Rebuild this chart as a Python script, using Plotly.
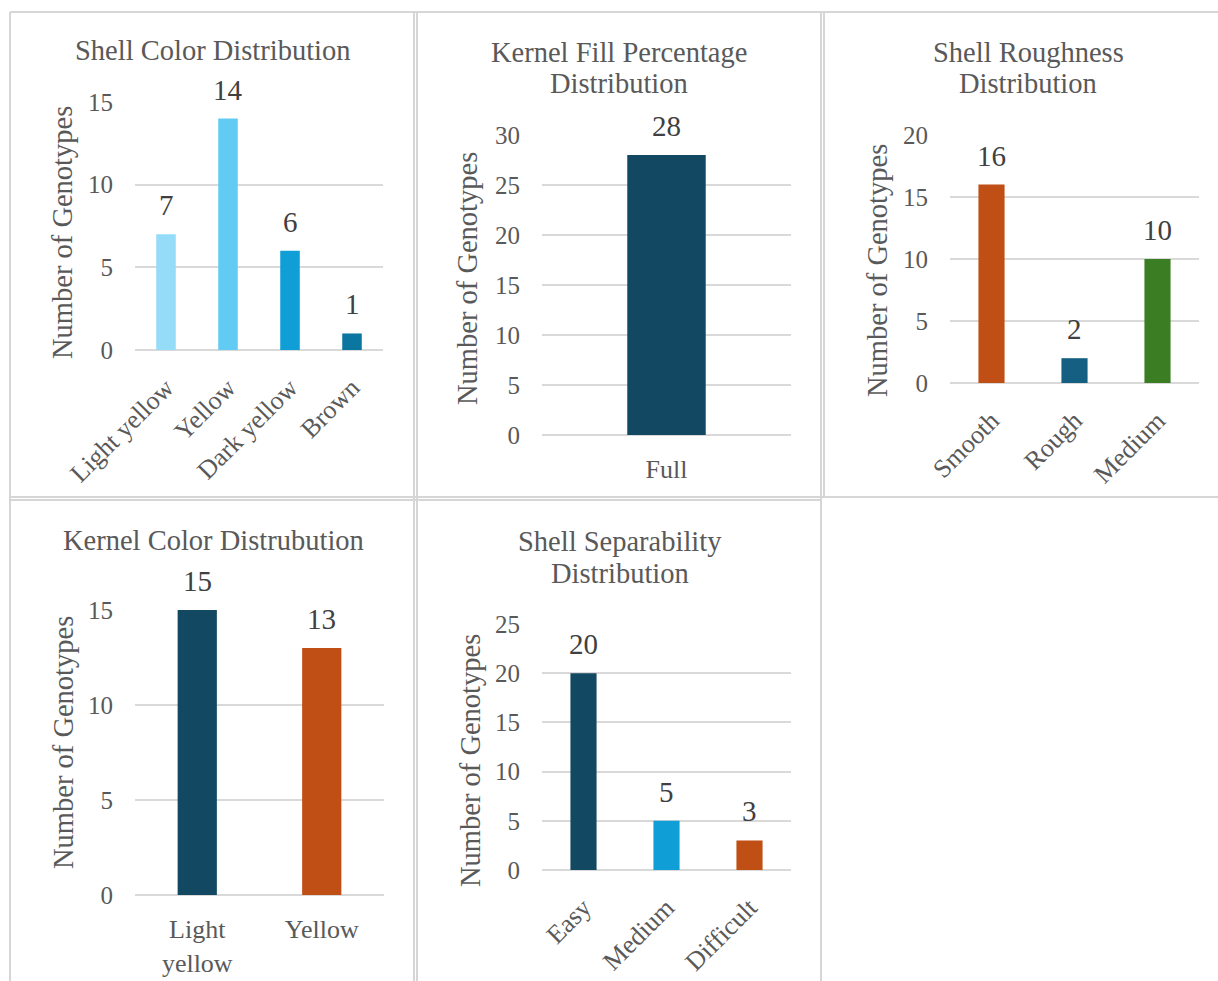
import plotly.graph_objects as go

W, H = 1218, 981
FONT = "Times New Roman, Liberation Serif, serif"
GRID = "#d9d9d9"
TXT = "#595959"
LBL = "#404040"

# ---- data ----
shell_color_cats = ["Light yellow", "Yellow", "Dark yellow", "Brown"]
shell_color_vals = [7, 14, 6, 1]
shell_color_cols = ["#94DCF8", "#61CBF3", "#0F9ED5", "#0B76A0"]

kernel_fill_cats = ["Full"]
kernel_fill_vals = [28]
kernel_fill_cols = ["#124861"]

roughness_cats = ["Smooth", "Rough", "Medium"]
roughness_vals = [16, 2, 10]
roughness_cols = ["#C04F15", "#155F82", "#3B7D23"]

kernel_color_cats = ["Light<br>yellow", "Yellow"]
kernel_color_vals = [15, 13]
kernel_color_cols = ["#124861", "#C04F15"]

separability_cats = ["Easy", "Medium", "Difficult"]
separability_vals = [20, 5, 3]
separability_cols = ["#124861", "#0F9ED5", "#C04F15"]

panels = [
    dict(title=["Shell Color Distribution"], cats=shell_color_cats, vals=shell_color_vals,
         cols=shell_color_cols, ymax=15, dtick=5, box=(135, 383, 102, 350),
         title_xy=(213, 51), ytitle_xy=(63, 233), angle=-45),
    dict(title=["Kernel Fill Percentage", "Distribution"], cats=kernel_fill_cats,
         vals=kernel_fill_vals, cols=kernel_fill_cols, ymax=30, dtick=5,
         box=(542, 791, 135, 435), title_xy=(619, 52), ytitle_xy=(467, 278), angle=0),
    dict(title=["Shell Roughness", "Distribution"], cats=roughness_cats, vals=roughness_vals,
         cols=roughness_cols, ymax=20, dtick=5, box=(950, 1199, 135, 383),
         title_xy=(1028, 52), ytitle_xy=(878, 271), angle=-45),
    dict(title=["Kernel Color Distrubution"], cats=kernel_color_cats, vals=kernel_color_vals,
         cols=kernel_color_cols, ymax=15, dtick=5, box=(135, 384, 610, 895),
         title_xy=(213, 540), ytitle_xy=(63, 743), angle=0),
    dict(title=["Shell Separability", "Distribution"], cats=separability_cats,
         vals=separability_vals, cols=separability_cols, ymax=25, dtick=5,
         box=(542, 791, 624, 870), title_xy=(620, 541), ytitle_xy=(470, 760), angle=-45),
]

TITLE_LINE_GAP = 32


def px(x):
    return x / W


def py(y):
    return 1 - y / H


fig = go.Figure()
annotations = []
layout_axes = {}

for i, p in enumerate(panels, start=1):
    sfx = "" if i == 1 else str(i)
    xref, yref = f"x{sfx}", f"y{sfx}"
    x0, x1, y0, y1 = p["box"]

    fig.add_trace(go.Bar(
        x=p["cats"], y=p["vals"], marker=dict(color=p["cols"], line=dict(width=0)),
        xaxis=xref, yaxis=yref, showlegend=False, hoverinfo="skip",
    ))

    layout_axes[f"xaxis{sfx}"] = dict(
        domain=[px(x0), px(x1)], anchor=yref, showgrid=False, zeroline=False,
        showline=False, ticks="outside", ticklen=11, tickcolor="rgba(0,0,0,0)",
        tickangle=p["angle"], tickfont=dict(family=FONT, size=26, color=TXT),
        fixedrange=True, automargin=False,
    )
    layout_axes[f"yaxis{sfx}"] = dict(
        domain=[py(y1), py(y0)], anchor=xref, range=[0, p["ymax"]], dtick=p["dtick"],
        showgrid=True, gridcolor=GRID, gridwidth=1.6, zeroline=True,
        zerolinecolor=GRID, zerolinewidth=1.6, showline=False,
        ticks="outside", ticklen=16, tickcolor="rgba(0,0,0,0)",
        tickfont=dict(family=FONT, size=25, color=TXT), fixedrange=True,
        automargin=False,
    )

    # value labels above each bar
    for c, v in zip(p["cats"], p["vals"]):
        annotations.append(dict(
            x=c, y=v, xref=xref, yref=yref, text=str(v), showarrow=False,
            yanchor="bottom", yshift=11,
            font=dict(family=FONT, size=29, color=LBL),
        ))

    tx, ty = p["title_xy"]
    for k, line in enumerate(p["title"]):
        annotations.append(dict(
            x=px(tx), y=py(ty + k * TITLE_LINE_GAP), xref="paper", yref="paper", text=line,
            showarrow=False, xanchor="center", yanchor="middle",
            font=dict(family=FONT, size=28.5, color=TXT),
        ))
    ax_, ay_ = p["ytitle_xy"]
    annotations.append(dict(
        x=px(ax_), y=py(ay_), xref="paper", yref="paper", text="Number of Genotypes",
        textangle=-90, showarrow=False, xanchor="center", yanchor="middle",
        font=dict(family=FONT, size=28.5, color=TXT),
    ))

# table-style cell borders
BORDER = "#d6d6d6"
segments = [
    (10, 12, W, 12),
    (10, 497, W, 497),
    (10, 500, 821, 500),
    (10, 12, 10, H),
    (414, 12, 414, H),
    (417, 12, 417, H),
    (821, 12, 821, H),
    (824, 12, 824, 497),
]
shapes = [
    dict(type="line", xref="paper", yref="paper", x0=px(a), y0=py(b), x1=px(c), y1=py(d),
         line=dict(color=BORDER, width=2))
    for a, b, c, d in segments
]

fig.update_layout(
    width=W, height=H, margin=dict(l=0, r=0, t=0, b=0, autoexpand=False),
    paper_bgcolor="white", plot_bgcolor="white",
    bargap=0.685, annotations=annotations, shapes=shapes,
    font=dict(family=FONT, color=TXT),
    **layout_axes,
)

fig.write_html("out.html", config={"displayModeBar": False})
